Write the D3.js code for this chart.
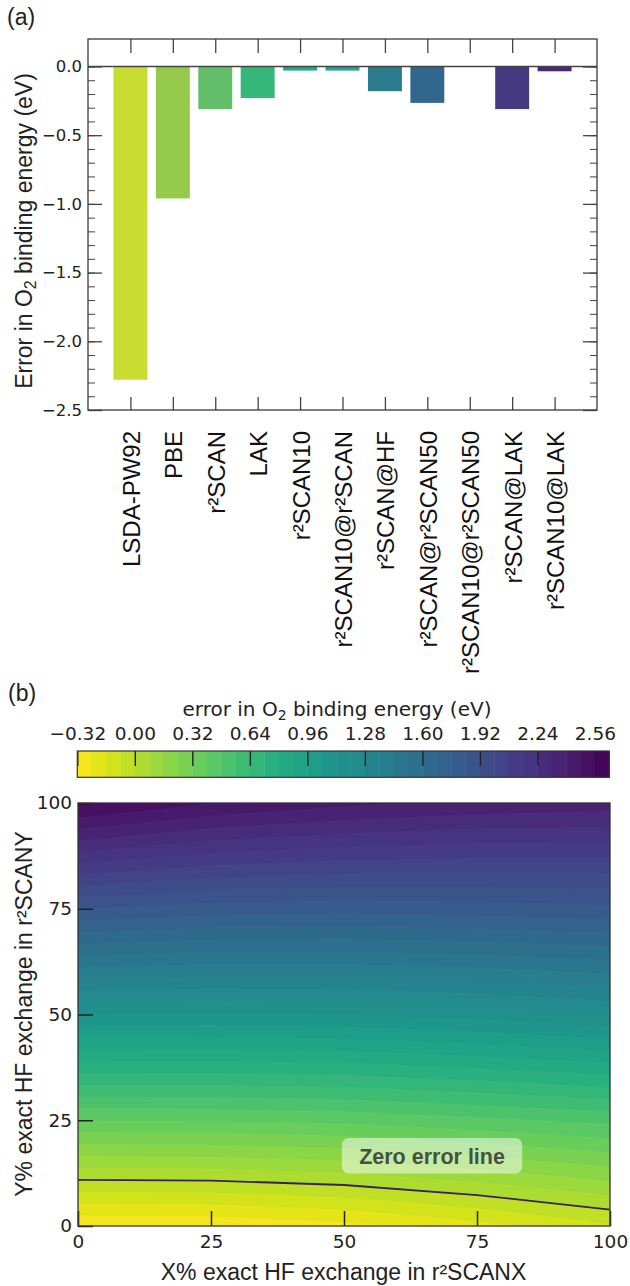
<!DOCTYPE html>
<html><head><meta charset="utf-8">
<script src="https://cdn.jsdelivr.net/npm/d3@7"></script>
<style>body{margin:0;background:#fff}svg{display:block}</style>
</head><body>
<svg id="c" width="630" height="1286"></svg>
<script>
// ---------- DATA ----------
const categories = ["LSDA-PW92","PBE","r²SCAN","LAK","r²SCAN10","r²SCAN10@r²SCAN","r²SCAN@HF","r²SCAN@r²SCAN50","r²SCAN10@r²SCAN50","r²SCAN@LAK","r²SCAN10@LAK"];
const barValues = [-2.28,-0.96,-0.31,-0.23,-0.03,-0.03,-0.18,-0.265,0.0,-0.31,-0.035];
const barColors = ["#c8dc32","#95c94a","#63be6a","#35b779","#24a98a","#26a496","#2b7b8d","#32678d","#3d4e8a","#453a81","#48287a"];
const barMajorTicks = [0.0,-0.5,-1.0,-1.5,-2.0,-2.5];
const hfX = [0,25,50,75,100];
const hfY = [0,25,50,75,100];
// errorGrid[row = Y index][col = X index], eV
const errorGrid = [
  [-0.31,-0.305,-0.266,-0.19,-0.092],
  [ 0.40, 0.405, 0.42, 0.46, 0.50],
  [ 1.12, 1.11, 1.12, 1.15, 1.20],
  [ 1.84, 1.80, 1.79, 1.80, 1.82],
  [ 2.58, 2.48, 2.42, 2.38, 2.36]
];
const levels = d3.range(38).map(i => +(-0.32 + 0.08*i).toFixed(2));
const cbTicks = [-0.32,0.00,0.32,0.64,0.96,1.28,1.60,1.92,2.24,2.56];
const hfTicks = [0,25,50,75,100];

// ---------- SETUP ----------
const svg = d3.select("#c");
const SANS = "'Liberation Sans', Arial, sans-serif";
const DV = "'DejaVu Sans', sans-serif";

function styleAxis(g, color, w, fs, font){
  g.select(".domain").remove();
  g.selectAll(".tick line").attr("stroke", color).attr("stroke-width", w);
  g.selectAll(".tick text").attr("fill","#222").style("font-family", font).style("font-size", fs+"px");
}

// ---------- PANEL (a) ----------
const A = {l:88, r:597, t:39, b:410};
const xA = d3.scaleLinear().domain([-1, categories.length]).range([A.l, A.r]);
const yA = d3.scaleLinear().domain([-2.5, 0.2]).range([A.b, A.t]);

svg.append("text").attr("x",7).attr("y",25).text("(a)")
  .style("font-family",SANS).style("font-size","23px").attr("fill","#222");

svg.append("g").selectAll("rect").data(barValues).join("rect")
  .attr("x",(d,i)=>xA(i-0.4)).attr("width", xA(0.4)-xA(-0.4))
  .attr("y", d=>yA(Math.max(0,d))).attr("height", d=>Math.abs(yA(d)-yA(0)))
  .attr("fill",(d,i)=>barColors[i]);

const minorA = d3.range(26).map(i => +(-2.5 + 0.1*i).toFixed(1));
const tickCol = "#444";
svg.append("g").attr("transform",`translate(${A.l},0)`)
  .call(d3.axisLeft(yA).tickValues(minorA).tickSize(-7).tickFormat(""))
  .call(g=>styleAxis(g,tickCol,1,16,DV));
svg.append("g").attr("transform",`translate(${A.l},0)`)
  .call(d3.axisLeft(yA).tickValues(barMajorTicks).tickSize(-14).tickPadding(6).tickFormat(d3.format(".1f")))
  .call(g=>styleAxis(g,tickCol,1.3,16.5,DV));
svg.append("g").attr("transform",`translate(${A.r},0)`)
  .call(d3.axisRight(yA).tickValues(minorA).tickSize(-7).tickFormat(""))
  .call(g=>styleAxis(g,tickCol,1,16,DV));
svg.append("g").attr("transform",`translate(${A.r},0)`)
  .call(d3.axisRight(yA).tickValues(barMajorTicks).tickSize(-14).tickFormat(""))
  .call(g=>styleAxis(g,tickCol,1.3,16,DV));
svg.append("g").attr("transform",`translate(0,${A.t})`)
  .call(d3.axisTop(xA).tickValues(d3.range(categories.length)).tickSize(-14).tickFormat(""))
  .call(g=>styleAxis(g,tickCol,1.3,16,DV));
svg.append("g").attr("transform",`translate(0,${A.b})`)
  .call(d3.axisBottom(xA).tickValues(d3.range(categories.length)).tickSize(-13).tickFormat(""))
  .call(g=>styleAxis(g,tickCol,1.3,16,DV));

svg.append("line").attr("x1",A.l).attr("x2",A.r).attr("y1",yA(0)).attr("y2",yA(0))
  .attr("stroke","#444").attr("stroke-width",1.4);
svg.append("rect").attr("x",A.l).attr("y",A.t).attr("width",A.r-A.l).attr("height",A.b-A.t)
  .attr("fill","none").attr("stroke","#3a3a3a").attr("stroke-width",1.3);

svg.append("g").selectAll("text").data(categories).join("text")
  .attr("transform",(d,i)=>`translate(${xA(i)+9.5},${A.b+21}) rotate(-90)`)
  .attr("text-anchor","end").text(d=>d)
  .style("font-family",SANS).style("font-size","24px").attr("fill","#111");

const ylabA = svg.append("text").attr("transform",`translate(32,231) rotate(-90)`)
  .attr("text-anchor","middle").style("font-family",SANS).style("font-size","23px").attr("fill","#222");
ylabA.append("tspan").text("Error in O");
ylabA.append("tspan").attr("dy",4).style("font-size","16px").text("2");
ylabA.append("tspan").attr("dy",-4).text(" binding energy (eV)");

// ---------- PANEL (b) ----------
svg.append("text").attr("x",8).attr("y",701).text("(b)")
  .style("font-family",SANS).style("font-size","23px").attr("fill","#222");

const vmin = levels[0], vmax = levels[levels.length-1];
const colorOf = v => d3.interpolateViridis(1 - (v - vmin)/(vmax - vmin));

// colorbar
const CB = {l:77.3, r:609.3, t:751, b:777.3};
const xCb = d3.scaleLinear().domain([vmin, vmax]).range([CB.l, CB.r]);
svg.append("g").selectAll("rect").data(levels.slice(0,-1)).join("rect")
  .attr("x",d=>xCb(d)).attr("width",(d,i)=>xCb(levels[i+1])-xCb(d)+0.4)
  .attr("y",CB.t).attr("height",CB.b-CB.t).attr("fill",(d,i)=>colorOf((d+levels[i+1])/2));
svg.append("g").attr("transform",`translate(0,${CB.t})`)
  .call(d3.axisTop(xCb).tickValues(cbTicks).tickSize(-15).tickPadding(11.5).tickFormat(d3.format(".2f")))
  .call(g=>styleAxis(g,"#222",1.4,18.5,DV));
svg.append("rect").attr("x",CB.l).attr("y",CB.t).attr("width",CB.r-CB.l).attr("height",CB.b-CB.t)
  .attr("fill","none").attr("stroke","#333").attr("stroke-width",1.2);
const cbt = svg.append("text").attr("x",337).attr("y",716).attr("text-anchor","middle")
  .style("font-family",DV).style("font-size","20px").attr("fill","#222");
cbt.append("tspan").text("error in O");
cbt.append("tspan").attr("dy",4).style("font-size","14px").text("2");
cbt.append("tspan").attr("dy",-4).text(" binding energy (eV)");

// contour map
const B = {l:78, r:610, t:803, b:1226};
const xB = d3.scaleLinear().domain([0,100]).range([B.l,B.r]);
const yB = d3.scaleLinear().domain([0,100]).range([B.b,B.t]);

function fieldAt(X, Y){ // bilinear rendering interpolation between read grid nodes
  let i = Math.min(Math.floor(X/25), hfX.length-2), j = Math.min(Math.floor(Y/25), hfY.length-2);
  const tx = (X - hfX[i])/(hfX[i+1]-hfX[i]), ty = (Y - hfY[j])/(hfY[j+1]-hfY[j]);
  const v00 = errorGrid[j][i], v10 = errorGrid[j][i+1], v01 = errorGrid[j+1][i], v11 = errorGrid[j+1][i+1];
  return (1-tx)*(1-ty)*v00 + tx*(1-ty)*v10 + (1-tx)*ty*v01 + tx*ty*v11;
}
const N = 201;
const vals = new Float64Array(N*N);
for (let r=0;r<N;r++) for (let c=0;c<N;c++) vals[r*N+c] = fieldAt(c*100/(N-1), r*100/(N-1));
const gx = d3.scaleLinear().domain([0.5, N-0.5]).range([xB(0), xB(100)]);
const gy = d3.scaleLinear().domain([0.5, N-0.5]).range([yB(0), yB(100)]);
const proj = d3.geoTransform({point(x,y){ this.stream.point(gx(x), gy(y)); }});
const path = d3.geoPath(proj);
const conts = d3.contours().size([N,N]).thresholds(levels.slice(0,-1))(vals);

svg.append("clipPath").attr("id","clipB").append("rect")
  .attr("x",B.l).attr("y",B.t).attr("width",B.r-B.l).attr("height",B.b-B.t);
svg.append("g").attr("clip-path","url(#clipB)").selectAll("path").data(conts).join("path")
  .attr("d", path).attr("fill", (d,i)=>colorOf(d.value + 0.04)).attr("stroke","none");

// zero error line (crossing per X column)
const zeroPts = hfX.map((X, c) => {
  for (let r=0;r<hfY.length-1;r++){
    const v0 = errorGrid[r][c], v1 = errorGrid[r+1][c];
    if (v0 <= 0 && v1 > 0) return [X, hfY[r] + (0 - v0)/(v1 - v0)*(hfY[r+1]-hfY[r])];
  }
  return null;
}).filter(d=>d);
svg.append("path").datum(zeroPts)
  .attr("d", d3.line().x(d=>xB(d[0])).y(d=>yB(d[1])))
  .attr("fill","none").attr("stroke","#3b1e5a").attr("stroke-width",1.8);

// annotation
const annX0 = 49.6, annX1 = 83.5, annY0 = 12.4, annY1 = 20.8;
svg.append("rect").attr("x",xB(annX0)).attr("y",yB(annY1)).attr("width",xB(annX1)-xB(annX0))
  .attr("height",yB(annY0)-yB(annY1)).attr("rx",7).attr("fill","#fff").attr("fill-opacity",0.5);
svg.append("text").attr("x",xB((annX0+annX1)/2)).attr("y",yB(14.6)).attr("text-anchor","middle")
  .text("Zero error line").style("font-family",SANS).style("font-weight","bold").style("font-size","21.5px")
  .attr("fill","#455242");

// axes
svg.append("g").attr("transform",`translate(${B.l},0)`)
  .call(d3.axisLeft(yB).tickValues(hfTicks).tickSize(-15).tickPadding(6).tickFormat(d3.format("d")))
  .call(g=>styleAxis(g,"#222",1.5,18.5,DV));
svg.append("g").attr("transform",`translate(0,${B.b})`)
  .call(d3.axisBottom(xB).tickValues(hfTicks).tickSize(-15).tickPadding(9).tickFormat(d3.format("d")))
  .call(g=>styleAxis(g,"#222",1.5,18.5,DV));
svg.append("rect").attr("x",B.l).attr("y",B.t).attr("width",B.r-B.l).attr("height",B.b-B.t)
  .attr("fill","none").attr("stroke","#333").attr("stroke-width",1.3);

svg.append("text").attr("x",343.5).attr("y",1280).attr("text-anchor","middle")
  .text("X% exact HF exchange in r²SCANX").style("font-family",SANS).style("font-size","23px").attr("fill","#222");
svg.append("text").attr("transform",`translate(32,1014) rotate(-90)`).attr("text-anchor","middle")
  .text("Y% exact HF exchange in r²SCANY").style("font-family",SANS).style("font-size","23px").attr("fill","#222");
</script>
</body></html>
